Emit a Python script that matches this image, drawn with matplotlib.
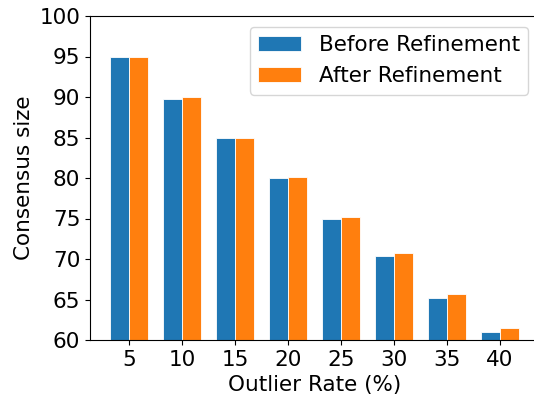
import numpy as np
import matplotlib
matplotlib.use('Agg')
import matplotlib.pyplot as plt

# 離群值比例與共識集合大小
outlier_rate = [5, 10, 15, 20, 25, 30, 35, 40]
before_refine = [95.0, 89.8, 85.0, 80.0, 74.9, 70.4, 65.2, 61.0]
after_refine = [95.0, 90.0, 85.0, 80.1, 75.2, 70.7, 65.7, 61.5]
y_ticks = [60, 65, 70, 75, 80, 85, 90, 95, 100]

fs = 15.5
fig = plt.figure(figsize=(5.34, 3.95), dpi=100)
ax = fig.add_axes([90 / 534, 55 / 395, 449 / 534, 324 / 395])

x = np.arange(len(outlier_rate))
w = 0.35
ax.bar(x - w / 2, before_refine, w, label='Before Refinement', color='#1f77b4', edgecolor='white', linewidth=0.6)
ax.bar(x + w / 2, after_refine, w, label='After Refinement', color='#ff7f0e', edgecolor='white', linewidth=0.6)

ax.set_ylim(60, 100)
ax.set_yticks(y_ticks)
ax.set_xticks(x)
ax.set_xticklabels([str(r) for r in outlier_rate])
ax.tick_params(labelsize=fs)
ax.set_xlabel('Outlier Rate (%)', fontsize=fs)
ax.set_ylabel('Consensus size', fontsize=fs)
ax.legend(loc='upper right', fontsize=fs)

fig.savefig('out.png', dpi=100)
